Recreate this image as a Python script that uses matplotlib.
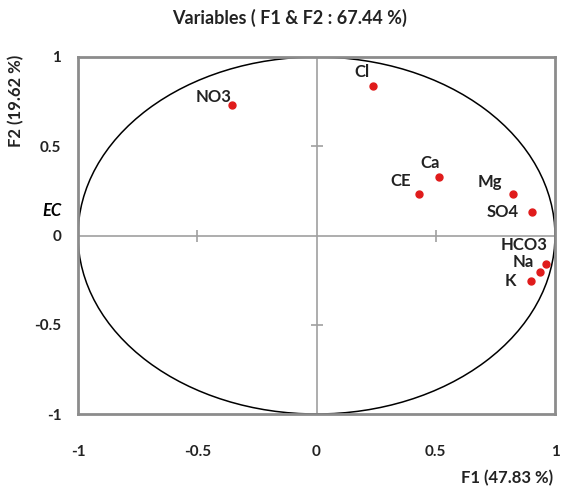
import matplotlib
matplotlib.use("Agg")
import matplotlib.pyplot as plt
from matplotlib.patches import Ellipse

variables = ["NO3", "Cl", "Ca", "CE", "Mg", "SO4", "HCO3", "Na", "K"]
f1 = [-0.354, 0.237, 0.515, 0.430, 0.825, 0.902, 0.962, 0.937, 0.899]
f2 = [0.731, 0.838, 0.329, 0.231, 0.231, 0.130, -0.161, -0.206, -0.253]
# label offsets in pixels (dx, dy)
label_offsets = [(-19, 8), (-11, 14), (-9, 14), (-18, 13), (-23, 12),
                 (-29, 0), (-22, 19), (-17, 10), (-21, 0)]
ticks = [-1, -0.5, 0, 0.5, 1]
tick_labels = ["-1", "-0.5", "0", "0.5", "1"]

plt.rcParams['font.family'] = ['Lato', 'DejaVu Sans']

fig = plt.figure(figsize=(5.62, 4.93), dpi=100)
ax = fig.add_axes([78/562, 1-414/493, (555-78)/562, (414-57)/493])
ax.set_xlim(-1, 1)
ax.set_ylim(-1, 1)

for s in ax.spines.values():
    s.set_color("#8c8c8c")
    s.set_linewidth(2)

ax.axhline(0, color="#a0a0a0", lw=1.2, zorder=1)
ax.axvline(0, color="#a0a0a0", lw=1.2, zorder=1)
# small ticks on center lines
ax.plot([-0.5, 0.5], [0, 0], ls="none", marker="|", ms=9, mew=1.2, color="#a0a0a0", zorder=1)
ax.plot([0, 0], [-0.5, 0.5], ls="none", marker="_", ms=9, mew=1.2, color="#a0a0a0", zorder=1)

ax.add_patch(Ellipse((0, 0), 2, 2, fill=False, ec="black", lw=1.1, zorder=2))

ax.plot(f1, f2, ls="none", marker="o", ms=5, color="#e01b1b", zorder=3)
for name, x, y, (dx, dy) in zip(variables, f1, f2, label_offsets):
    ax.annotate(name, (x, y), xytext=(dx, dy), textcoords="offset pixels",
                ha="center", va="center", fontsize=12, fontweight="bold", color="#222222")

ax.set_xticks(ticks)
ax.set_xticklabels(tick_labels)
ax.set_yticks(ticks)
ax.set_yticklabels(tick_labels)
ax.tick_params(length=0, labelsize=11)
ax.tick_params(axis="x", pad=22)
ax.tick_params(axis="y", pad=12)
for lab in ax.get_xticklabels() + ax.get_yticklabels():
    lab.set_fontweight("bold")
    lab.set_color("#222222")

fig.text(290/562, 1-18/493, "Variables ( F1 & F2 : 67.44 %)", ha="center", va="center",
         fontsize=13, fontweight="bold", color="#222222")
fig.text(553/562, 1-478/493, "F1 (47.83 %)", ha="right", va="center",
         fontsize=12, fontweight="bold", color="#222222")
fig.text(16/562, 1-101/493, "F2 (19.62 %)", ha="center", va="center", rotation=90,
         fontsize=12, fontweight="bold", color="#222222")
fig.text(52/562, 1-211/493, "EC", ha="center", va="center",
         fontsize=12, fontweight="bold", style="italic", color="black")

fig.savefig("out.png", dpi=100)
